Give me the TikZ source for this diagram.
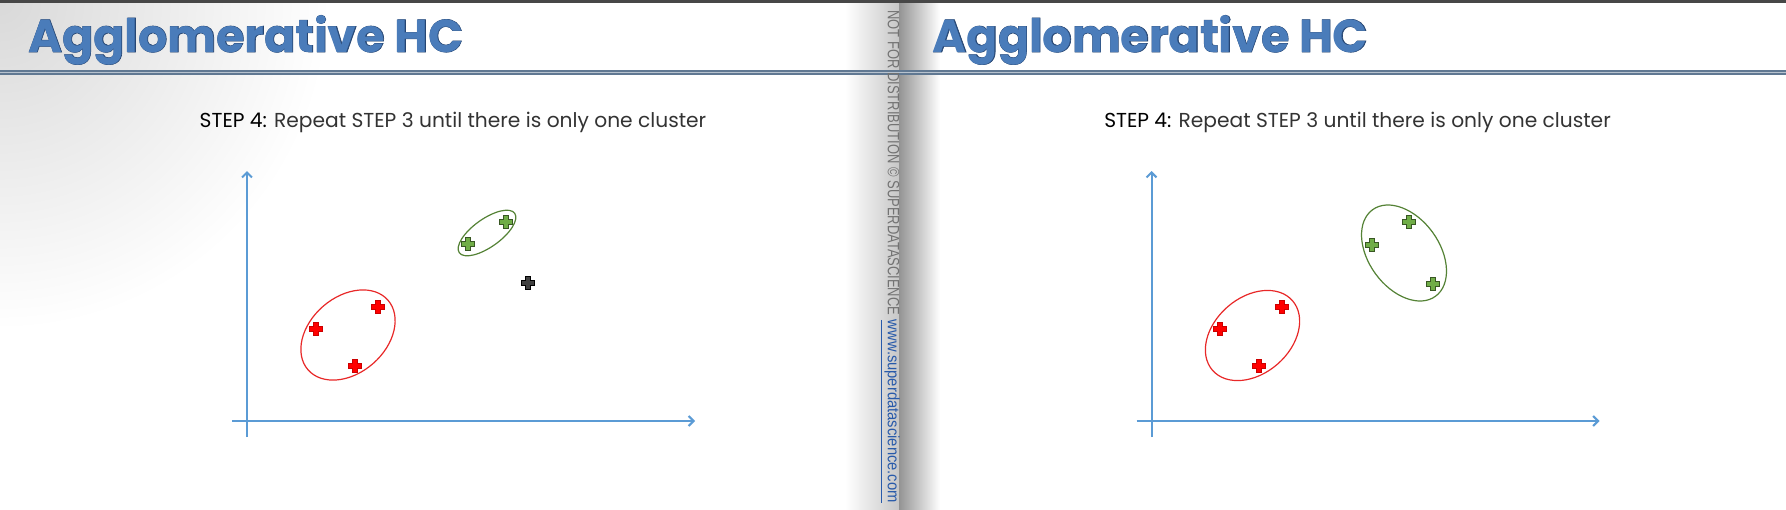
\documentclass[tikz,border=0pt]{standalone}
\usepackage{fontspec}
\usetikzlibrary{arrows.meta}
\setmainfont{Poppins}
\newfontfamily\titlefont{Poppins}
\newfontfamily\titleedge{Poppins}[FakeBold=1.4]
\newfontfamily\notefont{Liberation Sans}

\definecolor{axisblue}{RGB}{91,155,213}
\definecolor{titleblue}{RGB}{74,124,186}
\definecolor{titledark}{RGB}{38,70,115}
\definecolor{ruleblue}{RGB}{96,120,146}
\definecolor{plusgreen}{RGB}{112,173,71}
\definecolor{plusgreendark}{RGB}{56,87,35}
\definecolor{ringgreen}{RGB}{84,130,53}
\definecolor{ringred}{RGB}{232,40,40}
\definecolor{urlblue}{RGB}{40,90,170}

\newcommand\agtitle{{\titleedge\bfseries\color{titledark}\rlap{Agglomerative HC}}{\titlefont\bfseries\color{titleblue}Agglomerative HC}}

\tikzset{
  slidetitle/.style={anchor=base west, inner sep=0pt, font=\fontsize{23}{26}\selectfont},
  steptext/.style={inner sep=0pt, font=\fontsize{10.1}{11}\selectfont, text=black!80},
  axis/.style={axisblue, line width=1pt, -{Straight Barb[length=2.5pt,width=5pt]}},
  ring/.style={line width=0.6pt},
  plusmark/.style 2 args={minimum size=8pt, inner sep=0pt,
    path picture={\filldraw[fill=#1, draw=#2, line width=0.35pt]
      (path picture bounding box.center)
      +(-1.15pt,-3.1pt) -- +(1.15pt,-3.1pt) -- +(1.15pt,-1.15pt) -- +(3.1pt,-1.15pt)
      -- +(3.1pt,1.15pt) -- +(1.15pt,1.15pt) -- +(1.15pt,3.1pt) -- +(-1.15pt,3.1pt)
      -- +(-1.15pt,1.15pt) -- +(-3.1pt,1.15pt) -- +(-3.1pt,-1.15pt) -- +(-1.15pt,-1.15pt) -- cycle;}},
  redplus/.style={plusmark={red}{red!80!black}},
  greenplus/.style={plusmark={plusgreen}{plusgreendark}},
  blackplus/.style={plusmark={black!75}{black}},
  notice/.style={rotate=-90, anchor=west, inner sep=0pt, text=black!55,
    font=\notefont\fontsize{8.2}{9}\selectfont}
}

\begin{document}
\begin{tikzpicture}[x=0.5pt, y=-0.5pt]
  \useasboundingbox (0,0) rectangle (1786,509);
  \fill[white] (0,0) rectangle (1786,509);
  % grey corner and the fold between the two slides
  \begin{scope}
    \clip (0,3) rectangle (860,509);
    \shade[inner color=black!15, outer color=white] (0,0) circle (330);
  \end{scope}
  \shade[left color=white, right color=black!22] (845,3) rectangle (899,509);
  \shade[left color=black!42, middle color=black!22, right color=white] (899,3) rectangle (940,509);
  % top edge and title rule
  \fill[black!72] (0,0) rectangle (1786,3);
  \fill[ruleblue] (0,70) rectangle (1786,75);
  \draw[ruleblue!45!white, line width=0.6pt] (0,72.5) -- (1786,72.5);

  % titles, step text and axes of both slides
  \foreach \dx/\p in {0/L, 904.5/R} {
    \node[slidetitle] (title\p) at (28+\dx,52) {\agtitle};
    \node[steptext] (step\p) at (453+\dx,122) {\textcolor{black}{STEP 4:} Repeat STEP 3 until there is only one cluster};
    \coordinate (ytop\p) at (247+\dx,171);
    \coordinate (ybot\p) at (247+\dx,437);
    \coordinate (xleft\p) at (232+\dx,421);
    \coordinate (xright\p) at (695+\dx,421);
    \draw[axis] (ybot\p) -- (ytop\p);
    \draw[axis] (xleft\p) -- (xright\p);
  }

  % left slide: two clusters and one lone point
  \draw[ring, ringred, rotate around={41:(348,335)}] (348,335) ellipse [x radius=53, y radius=38];
  \draw[ring, ringgreen, rotate around={35.5:(487,233)}] (487,233) ellipse [x radius=34, y radius=14];
  \node[redplus] (ra) at (378,307) {};
  \node[redplus] (rb) at (316,329) {};
  \node[redplus] (rc) at (355,366) {};
  \node[greenplus] (ga) at (506,222) {};
  \node[greenplus] (gb) at (468,244) {};
  \node[blackplus] (ka) at (528,283) {};

  % right slide: the lone point joins the green cluster
  \draw[ring, ringred, rotate around={41:(1252.5,335.5)}] (1252.5,335.5) ellipse [x radius=53, y radius=38];
  \draw[ring, ringgreen, rotate around={-54:(1404,253)}] (1404,253) ellipse [x radius=53.5, y radius=35.3];
  \node[redplus] (rd) at (1282,307) {};
  \node[redplus] (re) at (1220,329) {};
  \node[redplus] (rf) at (1259,366) {};
  \node[greenplus] (gc) at (1409,222) {};
  \node[greenplus] (gd) at (1372,245) {};
  \node[greenplus] (ge) at (1433,284) {};

  % vertical notice on the fold
  \node[notice] (note) at (890,10) {\scalebox{0.79}[1]{NOT FOR DISTRIBUTION © SUPERDATASCIENCE} \textcolor{urlblue}{\scalebox{0.9}[1]{\underline{www.superdatascience.com}}}};
\end{tikzpicture}
\end{document}
